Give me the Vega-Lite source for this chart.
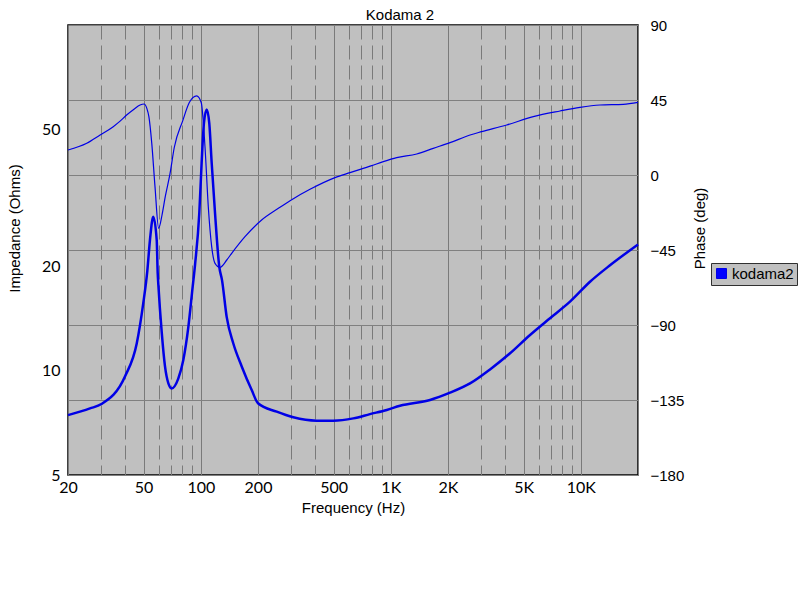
{
  "$schema": "https://vega.github.io/schema/vega-lite/v6.json",
  "autosize": {"type": "none"},
  "padding": {"left": 68, "top": 25, "right": 165, "bottom": 125},
  "width": 570,
  "height": 450,
  "background": "white",
  "title": {
    "text": "Kodama 2",
    "font": "Liberation Sans",
    "fontSize": 15,
    "fontWeight": "normal",
    "color": "black",
    "anchor": "middle",
    "dx": 47,
    "dy": 11,
    "offset": 6
  },
  "config": {
    "view": {"fill": "#c0c0c0", "stroke": "#000000", "strokeWidth": 1.5},
    "axis": {
      "ticks": false,
      "domain": false,
      "labelFont": "Liberation Sans",
      "labelFontSize": 15,
      "labelColor": "black",
      "titleFont": "Liberation Sans",
      "titleFontSize": 15,
      "titleFontWeight": "normal",
      "titleColor": "black",
      "gridOpacity": 1,
      "labelOverlap": false,
      "labelFlush": false,
      "labelBound": false
    }
  },
  "datasets": {
    "impedance": [
      {"freq": 20, "ohms": 7.45},
      {"freq": 26.1, "ohms": 7.79},
      {"freq": 30, "ohms": 8.02},
      {"freq": 40, "ohms": 9.66},
      {"freq": 46, "ohms": 12.0},
      {"freq": 49.8, "ohms": 15.7},
      {"freq": 52.3, "ohms": 19.45},
      {"freq": 54.0, "ohms": 23.9},
      {"freq": 56.2, "ohms": 27.9},
      {"freq": 58.6, "ohms": 23.9},
      {"freq": 59.3, "ohms": 19.2},
      {"freq": 59.8, "ohms": 17.7},
      {"freq": 62.3, "ohms": 12.9},
      {"freq": 64.8, "ohms": 10.3},
      {"freq": 67.5, "ohms": 9.2},
      {"freq": 70.2, "ohms": 8.9},
      {"freq": 76.1, "ohms": 9.5},
      {"freq": 80.9, "ohms": 10.75},
      {"freq": 86.0, "ohms": 13.4},
      {"freq": 90.6, "ohms": 17.5},
      {"freq": 93.2, "ohms": 20.2},
      {"freq": 98.2, "ohms": 28.6},
      {"freq": 101, "ohms": 39.9},
      {"freq": 103.9, "ohms": 52.1},
      {"freq": 107.4, "ohms": 57.0},
      {"freq": 110.8, "ohms": 52.0},
      {"freq": 114.1, "ohms": 39.9},
      {"freq": 118.8, "ohms": 28.6},
      {"freq": 125.1, "ohms": 20.0},
      {"freq": 129.3, "ohms": 18.3},
      {"freq": 136.9, "ohms": 14.3},
      {"freq": 148.3, "ohms": 12.0},
      {"freq": 164.2, "ohms": 10.3},
      {"freq": 185.3, "ohms": 8.8},
      {"freq": 200, "ohms": 8.06},
      {"freq": 250.9, "ohms": 7.62},
      {"freq": 306.8, "ohms": 7.34},
      {"freq": 407, "ohms": 7.18},
      {"freq": 498, "ohms": 7.18},
      {"freq": 635, "ohms": 7.29},
      {"freq": 777, "ohms": 7.5},
      {"freq": 952, "ohms": 7.71},
      {"freq": 1118, "ohms": 7.93},
      {"freq": 1608, "ohms": 8.24},
      {"freq": 2050, "ohms": 8.65},
      {"freq": 2612, "ohms": 9.2},
      {"freq": 3328, "ohms": 10.1},
      {"freq": 4242, "ohms": 11.24},
      {"freq": 5404, "ohms": 12.7},
      {"freq": 6886, "ohms": 14.2},
      {"freq": 8774, "ohms": 15.85},
      {"freq": 11180, "ohms": 18.1},
      {"freq": 14246, "ohms": 20.2},
      {"freq": 20000, "ohms": 23.2}
    ],
    "phase": [
      {"freq": 20, "deg": 15},
      {"freq": 25.1, "deg": 19},
      {"freq": 29.5, "deg": 24},
      {"freq": 34.6, "deg": 29},
      {"freq": 37.6, "deg": 32.3},
      {"freq": 40.7, "deg": 36},
      {"freq": 44.5, "deg": 39.5},
      {"freq": 47.9, "deg": 42},
      {"freq": 50.3, "deg": 42.6},
      {"freq": 52.0, "deg": 40},
      {"freq": 53.3, "deg": 35},
      {"freq": 55.2, "deg": 19},
      {"freq": 57.4, "deg": -7},
      {"freq": 60.0, "deg": -32},
      {"freq": 62.5, "deg": -24},
      {"freq": 65, "deg": -13},
      {"freq": 68.9, "deg": 1},
      {"freq": 72.5, "deg": 16.5},
      {"freq": 80.3, "deg": 32.5},
      {"freq": 87, "deg": 43.5},
      {"freq": 95.1, "deg": 47.5},
      {"freq": 100.5, "deg": 43.5},
      {"freq": 105.2, "deg": 17},
      {"freq": 109.5, "deg": -19},
      {"freq": 114.1, "deg": -43},
      {"freq": 118.8, "deg": -53},
      {"freq": 126.2, "deg": -55.4},
      {"freq": 137, "deg": -51},
      {"freq": 145.4, "deg": -47},
      {"freq": 170.8, "deg": -37},
      {"freq": 209, "deg": -27},
      {"freq": 256, "deg": -20},
      {"freq": 295, "deg": -15.4},
      {"freq": 375.6, "deg": -8.6},
      {"freq": 508.5, "deg": -1.6},
      {"freq": 610, "deg": 1.4},
      {"freq": 793, "deg": 5.6},
      {"freq": 913, "deg": 8},
      {"freq": 1074, "deg": 10.4},
      {"freq": 1369, "deg": 12.6},
      {"freq": 1673, "deg": 16},
      {"freq": 2050, "deg": 19.4},
      {"freq": 2612, "deg": 24},
      {"freq": 3010, "deg": 26},
      {"freq": 4074, "deg": 30},
      {"freq": 5622, "deg": 35},
      {"freq": 7772, "deg": 38.4},
      {"freq": 9900, "deg": 40.6},
      {"freq": 12619, "deg": 42},
      {"freq": 16736, "deg": 42.4},
      {"freq": 20000, "deg": 43.6}
    ]
  },
  "encoding": {
    "x": {
      "field": "freq",
      "type": "quantitative",
      "scale": {"type": "log", "domain": [20, 20000], "nice": false},
      "axis": {
        "title": "Frequency (Hz)",
        "titlePadding": 5,
        "labelPadding": 4,
        "labelFont": "Lato",
        "labelFontSize": 16,
        "values": [20, 30, 40, 50, 60, 70, 80, 90, 100, 200, 300, 400, 500, 600, 700, 800, 900, 1000, 2000, 3000, 4000, 5000, 6000, 7000, 8000, 9000, 10000, 20000],
        "labelExpr": "indexof([20, 50, 100, 200, 500, 1000, 2000, 5000, 10000], datum.value) >= 0 ? (datum.value >= 1000 ? (datum.value / 1000) + 'K' : '' + datum.value) : ''",
        "gridColor": "#7a7a7a",
        "gridWidth": 1,
        "gridDash": {
          "condition": {"test": "indexof([20, 50, 100, 200, 500, 1000, 2000, 5000, 10000, 20000], datum.value) >= 0", "value": []},
          "value": [14, 6]
        }
      }
    }
  },
  "layer": [
    {
      "data": {"name": "phase"},
      "mark": {"type": "line", "color": "#0000e6", "strokeWidth": 1.2, "interpolate": "monotone"},
      "encoding": {
        "y": {
          "field": "deg",
          "type": "quantitative",
          "scale": {"domain": [-180, 90], "nice": false, "zero": false},
          "axis": {
            "orient": "right",
            "title": "Phase (deg)",
            "titleAngle": -90,
            "titleBaseline": "bottom",
            "titleX": 69,
            "titleY": 203,
            "values": [-180, -135, -90, -45, 0, 45, 90],
            "labelPadding": 12,
            "gridColor": "#808080",
            "gridWidth": 1
          }
        }
      }
    },
    {
      "data": {"name": "impedance"},
      "mark": {"type": "line", "strokeWidth": 2.5, "interpolate": "monotone"},
      "encoding": {
        "y": {
          "field": "ohms",
          "type": "quantitative",
          "scale": {"type": "log", "domain": [5, 100], "nice": false},
          "axis": {
            "orient": "left",
            "title": "Impedance (Ohms)",
            "titleAngle": -90,
            "titleBaseline": "bottom",
            "titleX": -46,
            "titleY": 203,
            "values": [5, 10, 20, 50],
            "labelFont": "Lato",
            "labelFontSize": 16,
            "labelPadding": 8,
            "gridColor": "#404040",
            "gridWidth": 1
          }
        },
        "color": {
          "datum": "kodama2",
          "scale": {"range": ["#0000e6"]},
          "legend": {
            "title": null,
            "orient": "none",
            "legendX": 643,
            "legendY": 238,
            "fillColor": "#c0c0c0",
            "strokeColor": "#303030",
            "padding": 3,
            "symbolType": "square",
            "symbolSize": 100,
            "symbolOffset": 0,
            "labelOffset": 3,
            "labelFont": "Liberation Sans",
            "labelFontSize": 15,
            "labelColor": "black",
            "encode": {
              "symbols": {
                "update": {
                  "fill": {"value": "#0000ff"},
                  "stroke": {"value": "#000060"},
                  "strokeWidth": {"value": 1},
                  "shape": {"value": "square"}
                }
              }
            }
          }
        }
      }
    }
  ],
  "resolve": {"scale": {"y": "independent"}, "axis": {"y": "independent"}}
}
